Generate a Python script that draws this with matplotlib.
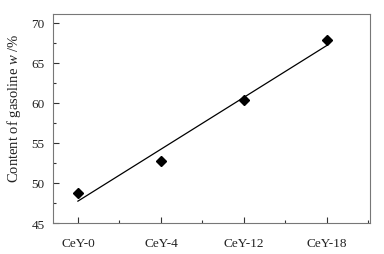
import numpy as np
import matplotlib
matplotlib.use('Agg')
import matplotlib.pyplot as plt
from matplotlib.ticker import MultipleLocator

# data
samples = ['CeY-0', 'CeY-4', 'CeY-12', 'CeY-18']
gasoline = [48.8, 52.8, 60.3, 67.9]

plt.rcParams['font.family'] = ['Liberation Serif', 'DejaVu Serif']
plt.rcParams['font.size'] = 9.5
plt.rcParams['mathtext.fontset'] = 'custom'
plt.rcParams['mathtext.it'] = 'Liberation Serif:italic'
plt.rcParams['mathtext.rm'] = 'Liberation Serif'

x = np.arange(len(samples))

fig = plt.figure(figsize=(3.84, 2.55), dpi=100)
ax = fig.add_axes([53/384, 1 - 224/255, (370-53)/384, (224-15)/255])

# linear trend line through the points
k, b = np.polyfit(x, gasoline, 1)
ax.plot(x, k * x + b, color='black', linewidth=0.9)
ax.plot(x, gasoline, linestyle='none', marker='D', markersize=5, color='black')

ax.set_xlim(-0.3, 3.52)
ax.set_ylim(45, 71.1)
ax.set_xticks(x)
ax.set_xticklabels(samples)
ax.xaxis.set_minor_locator(MultipleLocator(0.5))
ax.yaxis.set_major_locator(MultipleLocator(5))
ax.yaxis.set_minor_locator(MultipleLocator(2.5))
ax.tick_params(which='both', direction='in', color='#333333', labelcolor='#222222')
ax.tick_params(which='major', length=4, width=0.8, pad=6)
ax.tick_params(which='minor', length=2, width=0.8)
ax.tick_params(axis='x', which='major', pad=10)

for s in ax.spines.values():
    s.set_color('#777777')
    s.set_linewidth(0.8)

ax.set_ylabel('Content of gasoline $w$ /%', color='#222222', fontsize=10.5)
ax.yaxis.set_label_coords(-0.095, 0.555)

fig.savefig('out.png', dpi=100)
